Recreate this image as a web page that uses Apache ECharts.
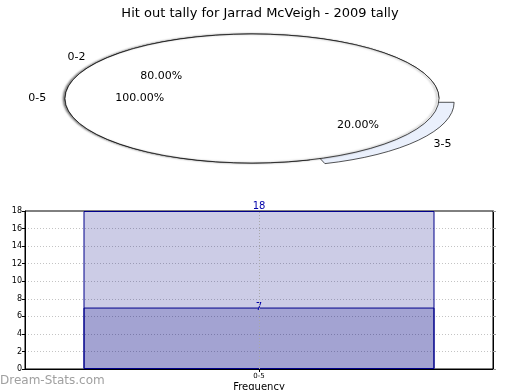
<!DOCTYPE html>
<html>
<head>
<meta charset="utf-8">
<script src="https://cdn.jsdelivr.net/npm/echarts@6/dist/echarts.min.js"></script>
<style>
html,body{margin:0;padding:0;background:#fff;}
#chart{width:520px;height:390px;}
</style>
</head>
<body>
<div id="chart"></div>
<script>
// ---- data ----
const chartTitle = 'Hit out tally for Jarrad McVeigh - 2009 tally';
const innerPieNames = ['0-2', '3-5'];
const innerPieValues = [80, 20];
const innerPieExplode = [0, 0.1];
const outerPieNames = ['0-5'];
const outerPieValues = [100];
const barCategories = ['0-5'];
const barValuesA = [18];
const barValuesB = [7];
const yTicks = { min: 0, max: 18, interval: 2 };

// ---- pie geometry (elliptical pie) ----
const CX = 252, CY = 98.5, RX = 187, RY = 64.5;
const FONT = 'DejaVu Sans, sans-serif';

function ellipsePie(names, values, explode, fills, layer, shadow) {
  const total = values.reduce((a, b) => a + b, 0);
  return {
    type: 'custom',
    coordinateSystem: 'none',
    silent: true,
    z: 2,
    data: values.map((v, i) => ({ value: v, name: names[i] })),
    renderItem: function (params, api) {
      const i = params.dataIndex;
      let before = 0;
      for (let k = 0; k < i; k++) before += values[k];
      const v = api.value(0);
      const a0 = before / total * Math.PI * 2;
      const a1 = (before + v) / total * Math.PI * 2;
      const mid = (a0 + a1) / 2;
      const ex = explode[i] || 0;
      const ox = ex * RX * Math.cos(mid);
      const oy = -ex * RY * Math.sin(mid);
      const cx = CX + ox, cy = CY + oy;
      const lx = cx + 1.1 * RX * Math.cos(mid);
      const ly = cy - 1.1 * RY * Math.sin(mid);
      const px = cx + 0.6 * RX * Math.cos(mid);
      const py = cy - 0.6 * RY * Math.sin(mid);
      const style = {
        fill: fills[i],
        stroke: '#000',
        lineWidth: 1,
        strokeNoScale: true
      };
      if (shadow) {
        style.shadowBlur = 2;
        style.shadowColor = 'rgba(0,0,0,0.5)';
        style.shadowOffsetX = -2;
        style.shadowOffsetY = 0;
      }
      return {
        type: 'group',
        children: [
          {
            type: 'sector',
            z2: layer,
            shape: { cx: cx, cy: cy, r0: 0, r: RX, startAngle: -a1, endAngle: -a0, clockwise: true },
            originX: cx,
            originY: cy,
            scaleY: RY / RX,
            style: style
          },
          {
            type: 'text',
            z2: 50,
            x: lx, y: ly,
            style: {
              text: names[i],
              fill: '#000',
              font: '11px ' + FONT,
              align: Math.cos(mid) >= 0 ? 'left' : 'right',
              verticalAlign: 'middle'
            }
          },
          {
            type: 'text',
            z2: 50,
            x: px, y: py,
            style: {
              text: (v / total * 100).toFixed(2) + '%',
              fill: '#000',
              font: '11px ' + FONT,
              align: 'center',
              verticalAlign: 'middle'
            }
          }
        ]
      };
    }
  };
}

const chart = echarts.init(document.getElementById('chart'), null, { renderer: 'canvas' });

const barStyle = {
  color: 'rgba(0,0,128,0.2)',
  borderColor: '#00008b',
  borderWidth: 1
};
function barLabel(dist) {
  return {
    show: true,
    position: 'top',
    distance: dist,
    color: '#0000aa',
    fontSize: 10,
    fontFamily: FONT
  };
}

chart.setOption({
  animation: false,
  backgroundColor: '#fff',
  textStyle: { fontFamily: FONT },
  title: {
    text: chartTitle,
    left: 'center',
    top: 2,
    textStyle: { fontSize: 13, fontWeight: 'normal', color: '#000', fontFamily: FONT }
  },
  graphic: [
    {
      type: 'text',
      left: 0,
      top: 375,
      style: { text: 'Dream-Stats.com', fill: '#a0a0a0', font: '12px ' + FONT }
    }
  ],
  grid: {
    left: 25, right: 27, top: 211, bottom: 21,
    containLabel: false,
    outerBoundsMode: 'none',
    show: true, borderColor: '#000', borderWidth: 1, backgroundColor: 'transparent'
  },
  xAxis: [
    {
      type: 'category',
      data: barCategories,
      name: 'Frequency',
      nameLocation: 'middle',
      nameGap: 13,
      nameTextStyle: { fontSize: 10, color: '#000' },
      axisLine: { show: true, lineStyle: { color: '#000' } },
      axisTick: { show: true, alignWithLabel: true, length: 3, lineStyle: { color: '#000' } },
      axisLabel: { fontSize: 7, color: '#000', margin: 4 },
      splitLine: { show: false }
    },
    {
      type: 'category',
      position: 'top',
      data: barCategories,
      axisLine: { show: true, lineStyle: { color: '#000' } },
      axisTick: { show: false },
      axisLabel: { show: false },
      splitLine: { show: false }
    }
  ],
  yAxis: [
    {
      type: 'value',
      min: yTicks.min, max: yTicks.max, interval: yTicks.interval,
      name: 'Stat Intervals',
      nameLocation: 'middle',
      nameGap: 15,
      nameTextStyle: { fontSize: 10, color: '#000' },
      axisLine: { show: true, lineStyle: { color: '#000' } },
      axisTick: { show: true, length: 3, lineStyle: { color: '#000' } },
      axisLabel: { fontSize: 8, color: '#000', margin: 3 },
      splitLine: { show: true, showMinLine: false, showMaxLine: false, lineStyle: { color: '#c4c4c4', type: [1, 2], width: 1 } }
    },
    {
      type: 'value',
      position: 'right',
      min: yTicks.min, max: yTicks.max, interval: yTicks.interval,
      axisLine: { show: true, lineStyle: { color: '#000' } },
      axisTick: { show: true, length: 3, lineStyle: { color: '#999' } },
      axisLabel: { show: false },
      splitLine: { show: false }
    }
  ],
  series: [
    ellipsePie(innerPieNames, innerPieValues, innerPieExplode, ['#ffffff', '#eaf0fc'], 1, false),
    ellipsePie(outerPieNames, outerPieValues, [0], ['#ffffff'], 2, true),
    {
      type: 'bar',
      data: barValuesA,
      barWidth: '75%',
      barGap: '-100%',
      itemStyle: barStyle,
      label: barLabel(0),
      markLine: {
        silent: true,
        symbol: 'none',
        label: { show: false },
        lineStyle: { color: '#a8a8a8', type: [1, 2], width: 1 },
        data: [{ xAxis: barCategories[0] }]
      }
    },
    {
      type: 'bar',
      data: barValuesB,
      barWidth: '75%',
      barGap: '-100%',
      itemStyle: barStyle,
      label: barLabel(-5)
    }
  ]
});
</script>
</body>
</html>
